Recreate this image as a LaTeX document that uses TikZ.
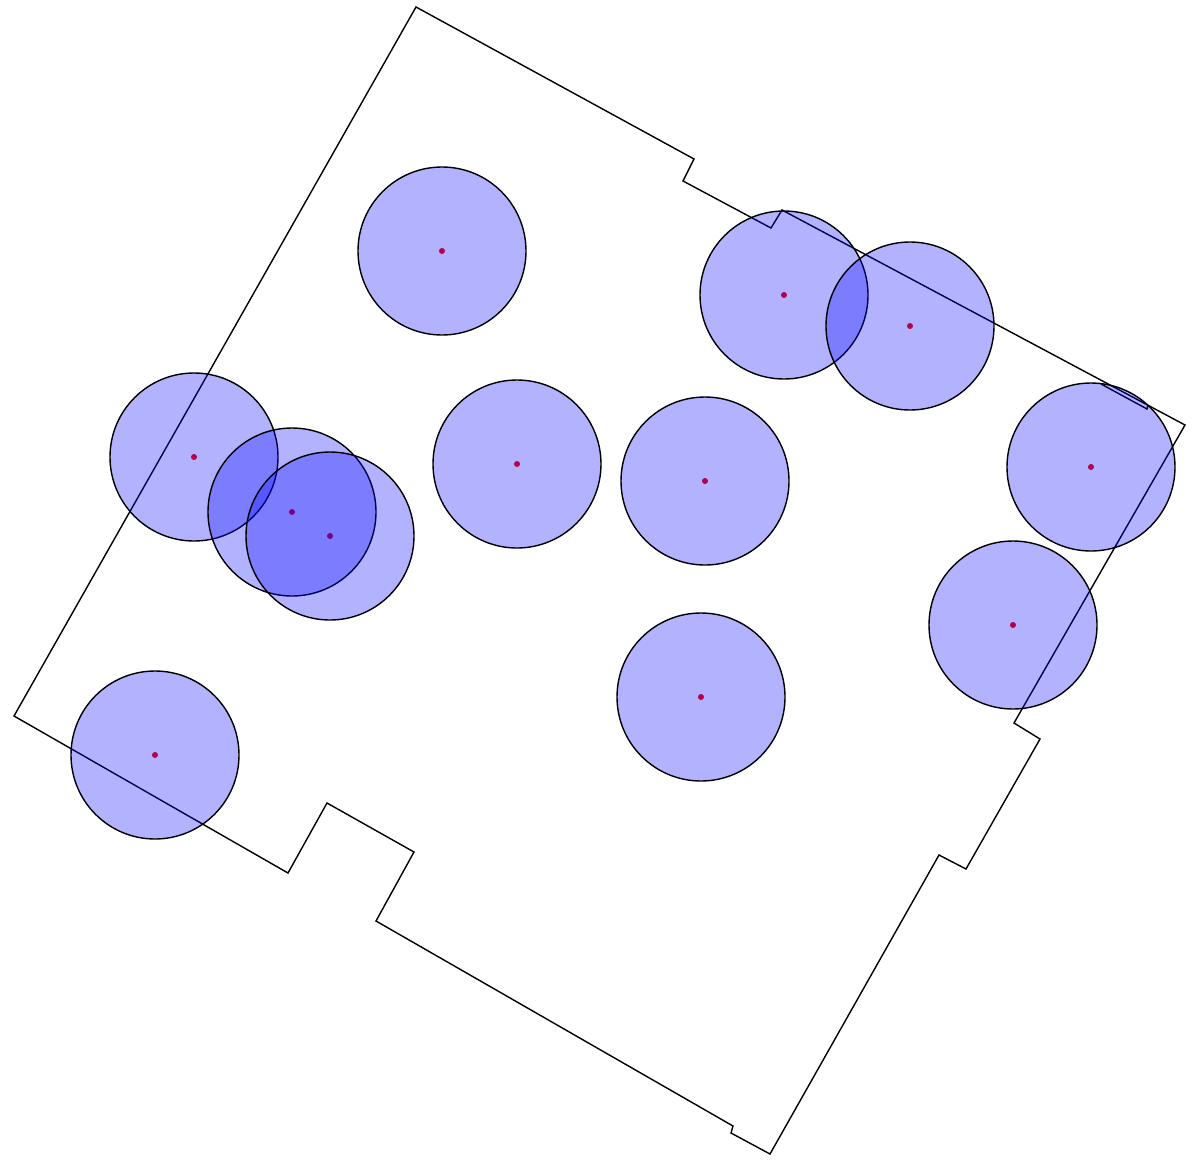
\documentclass[tikz,border=0pt]{standalone}
\begin{document}
\begin{tikzpicture}[x=1pt,y=-1pt,
  outline/.style={draw=black,line width=1.4pt,line join=miter},
  zone/.style={draw=black,line width=1.4pt,fill=blue,fill opacity=0.3,draw opacity=1},
  centre/.style={fill=red}]
\useasboundingbox (0,0) rectangle (1192,1165);
% outline
\draw[outline] (416,7) -- (694,159) -- (683,181) -- (771,228) -- (782,210) -- (1185,425)
  -- (1014,723) -- (1040,739) -- (966,869) -- (939,855) -- (770,1154) -- (731,1133)
  -- (733,1126) -- (376,921) -- (414,852) -- (327,803) -- (288,873) -- (14,716) -- cycle;
\draw[outline] (1101,384) -- (1147,409) -- (1148,405);
% centres
\foreach \p in {(442,251),(784,295),(910,326),(194,457),(292,512),(330,536),(517,464),(705,481),(1091,467),(1013,625),(701,697),(155,755)}
  \fill[centre] \p circle (3);
% zones
\foreach \p in {(442,251),(784,295),(910,326),(194,457),(292,512),(330,536),(517,464),(705,481),(1091,467),(1013,625),(701,697),(155,755)}
  \path[zone] \p circle (84);
\end{tikzpicture}
\end{document}
